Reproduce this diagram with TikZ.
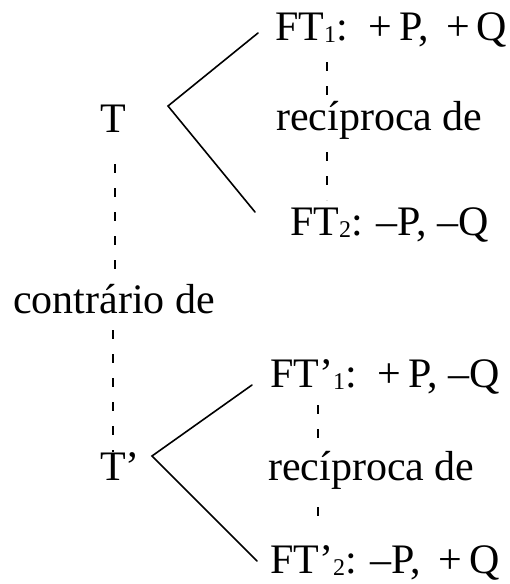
\documentclass[tikz,border=0pt]{standalone}
\usepackage{fontspec}
\setmainfont{Liberation Serif}
\usetikzlibrary{positioning,calc}
\newcommand{\idx}[1]{\raisebox{-0.06em}{\fontsize{24}{26}\selectfont #1}}
\tikzset{
  term/.style={inner sep=0pt,anchor=base west,font=\fontsize{42}{48}\selectfont},
  branch/.style={line width=1.6pt,line cap=round},
  relation/.style={line width=1.4pt,dash pattern=on 9pt off 15pt}
}

\begin{document}
\begin{tikzpicture}[x=1pt,y=-1pt]
      \useasboundingbox (0,0) rectangle (510,584);
      % upper group
      \node[term] (t) at (100,132) {T};
      \node[term] (ft1) at (275,40) {FT\idx{1}: \,+\,P, \,+\,Q};
      \node[term] (rec1) at (276,130) {recíproca de};
      \node[term] (ft2) at (290,235) {FT\idx{2}: –P, –Q};
      \coordinate (v1) at (168,106);
      \coordinate (u1) at (258,33);
      \coordinate (d1) at (255,212);
      \draw[branch] (u1) -- (v1) -- (d1);
      \coordinate (r1a) at (327,62);
      \coordinate (r1b) at (327,152);
      \coordinate (r1c) at (327,200);
      \draw[relation] (r1a) -- (r1a |- rec1.north);
      \draw[relation] (r1b) -- (r1c);
      % middle
      \node[term] (contra) at (13,313) {contrário de};
      \coordinate (ca) at (115,164);
      \draw[relation] (ca) -- (ca |- contra.north);
      % lower group
      \node[term] (tp) at (100,480) {T’};
      \node[term] (ftp1) at (270,387) {FT’\idx{1}: \,+\,P, –Q};
      \node[term] (rec2) at (268,480) {recíproca de};
      \node[term] (ftp2) at (270,573) {FT’\idx{2}: –P, \,+\,Q};
      \coordinate (v2) at (152,456);
      \coordinate (u2) at (252,385);
      \coordinate (d2) at (257,561);
      \draw[branch] (u2) -- (v2) -- (d2);
      \coordinate (cb) at (113,330);
      \draw[relation] (cb) -- (cb |- tp.north);
      \coordinate (r2a) at (318,405);
      \coordinate (r2b) at (318,507);
      \coordinate (r2c) at (318,527);
      \draw[relation] (r2a) -- (r2a |- rec2.north);
      \draw[relation] (r2b) -- (r2c);
\end{tikzpicture}
\end{document}
